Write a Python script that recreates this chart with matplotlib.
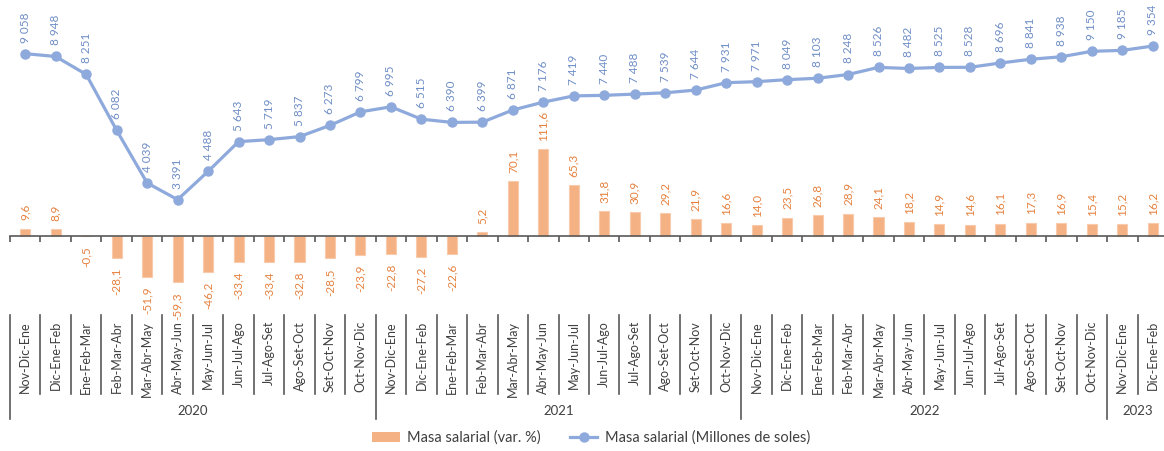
import numpy as np
import matplotlib
matplotlib.use("Agg")
import matplotlib.pyplot as plt
from matplotlib.lines import Line2D
from matplotlib.patches import Patch

plt.rcParams['font.family'] = ['Lato', 'DejaVu Sans']

# trimestres moviles
periods = ["Nov-Dic-Ene", "Dic-Ene-Feb", "Ene-Feb-Mar", "Feb-Mar-Abr", "Mar-Abr-May",
           "Abr-May-Jun", "May-Jun-Jul", "Jun-Jul-Ago", "Jul-Ago-Set", "Ago-Set-Oct",
           "Set-Oct-Nov", "Oct-Nov-Dic"]
labels = periods * 3 + periods[:2]
years = ["2020", "2021", "2022", "2023"]
year_sizes = [12, 12, 12, 2]

masa_var = [9.6, 8.9, -0.5, -28.1, -51.9, -59.3, -46.2, -33.4, -33.4, -32.8, -28.5, -23.9,
            -22.8, -27.2, -22.6, 5.2, 70.1, 111.6, 65.3, 31.8, 30.9, 29.2, 21.9, 16.6,
            14.0, 23.5, 26.8, 28.9, 24.1, 18.2, 14.9, 14.6, 16.1, 17.3, 16.9, 15.4,
            15.2, 16.2]
masa_mill = [9058, 8948, 8251, 6082, 4039, 3391, 4488, 5643, 5719, 5837, 6273, 6799,
             6995, 6515, 6390, 6399, 6871, 7176, 7419, 7440, 7488, 7539, 7644, 7931,
             7971, 8049, 8103, 8248, 8526, 8482, 8525, 8528, 8696, 8841, 8938, 9150,
             9185, 9354]

BAR_C = '#F4B183'
BAR_TXT = '#E5813F'
LINE_C = '#8EA9DB'
LINE_TXT = '#6E8DC6'
AX_C = '#595959'

W, H = 1164, 451
TOP, BOT = 10, 300
fig = plt.figure(figsize=(W / 100, H / 100), dpi=100)
ax = fig.add_axes([10 / W, (H - BOT) / H, 1158 / W, (BOT - TOP) / H])
ax2 = ax.twinx()

x = np.arange(len(labels))
ax.bar(x, masa_var, width=0.33, color=BAR_C, edgecolor='#F8CBAD', linewidth=0.8, zorder=2)
ax.set_xlim(-0.5, len(labels) - 0.5)
ax.set_ylim(-82, 290)
ax2.set_ylim(-505, 10753)

ax2.plot(x, masa_mill, color=LINE_C, lw=2.3, marker='o', ms=6.5, zorder=3)

def fmt_dec(v):
    return f"{v:.1f}".replace('.', ',')

def fmt_int(v):
    return f"{v:,}".replace(',', ' ')

for i, v in enumerate(masa_var):
    if v >= 0:
        ax.annotate(fmt_dec(v), (i, v), xytext=(0, 6), textcoords='offset points',
                    rotation=90, ha='center', va='bottom', fontsize=8.5, color=BAR_TXT)
    else:
        ax.annotate(fmt_dec(v), (i, v), xytext=(0, -7), textcoords='offset points',
                    rotation=90, ha='center', va='top', fontsize=8.5, color=BAR_TXT)

for i, v in enumerate(masa_mill):
    ax2.annotate(fmt_int(v), (i, v), xytext=(0, 8), textcoords='offset points',
                 rotation=90, ha='center', va='bottom', fontsize=8.5, color=LINE_TXT)

for a in (ax, ax2):
    for s in ('top', 'right', 'left'):
        a.spines[s].set_visible(False)
    a.set_yticks([])
ax2.spines['bottom'].set_visible(False)
ax.spines['bottom'].set_position(('data', 0))
ax.spines['bottom'].set_color(AX_C)
ax.spines['bottom'].set_linewidth(1.2)
ax.set_xticks(np.arange(-0.5, len(labels), 1))
ax.set_xticklabels([])
ax.tick_params(axis='x', direction='out', length=4, color=AX_C, width=1.2)

# etiquetas de categorias en la parte inferior
def fy(p):
    return (BOT - p) / (BOT - TOP)

trans = ax.get_xaxis_transform()
for i, lab in enumerate(labels):
    ax.text(i, fy(321), lab, transform=trans, rotation=90, ha='center', va='top',
            fontsize=9, color='#404040')

bounds = np.cumsum([0] + year_sizes) - 0.5
for j in range(len(labels)):
    xb = j - 0.5
    tall = xb in bounds
    ax.plot([xb, xb], [fy(315), fy(419 if tall else 394)], transform=trans,
            color=AX_C, lw=1.2, clip_on=False)

for k, yr in enumerate(years):
    xc = (bounds[k] + bounds[k + 1]) / 2
    ax.text(xc, fy(411), yr, transform=trans, ha='center', va='center',
            fontsize=9.5, color='#404040')

handles = [Patch(facecolor=BAR_C, edgecolor='none'),
           Line2D([], [], color=LINE_C, lw=2.3, marker='o', ms=6.5)]
fig.legend(handles, ["Masa salarial (var. %)", "Masa salarial (Millones de soles)"],
           loc='center', bbox_to_anchor=(591 / W, (H - 438) / H), ncol=2, frameon=False,
           fontsize=10.5, handlelength=1.9, handletextpad=0.5, columnspacing=2.0,
           labelcolor='#404040')

fig.savefig('out.png', dpi=100)
